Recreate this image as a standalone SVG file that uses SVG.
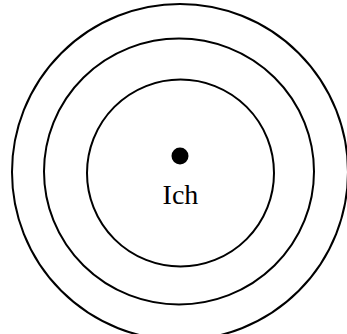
<svg xmlns="http://www.w3.org/2000/svg" width="347" height="334" viewBox="0 0 347 334">
<style>
.ring{fill:none;stroke:#000;stroke-width:2}
.lbl{font-family:"Liberation Serif","Times New Roman",serif;font-size:28px;fill:#000}
</style>
<rect width="347" height="334" fill="#fff"/>
<g id="outer"><ellipse class="ring" cx="180" cy="172" rx="168" ry="168"/></g>
<g id="middle"><ellipse class="ring" cx="179" cy="171.5" rx="135" ry="133"/></g>
<g id="inner"><circle class="ring" cx="180.5" cy="173" r="93.5"/></g>
<g id="ich">
<circle cx="180" cy="156" r="8.5" fill="#000"/>
<text class="lbl" x="180.5" y="204" text-anchor="middle">Ich</text>
</g>
<g id="connectors"/>
</svg>
